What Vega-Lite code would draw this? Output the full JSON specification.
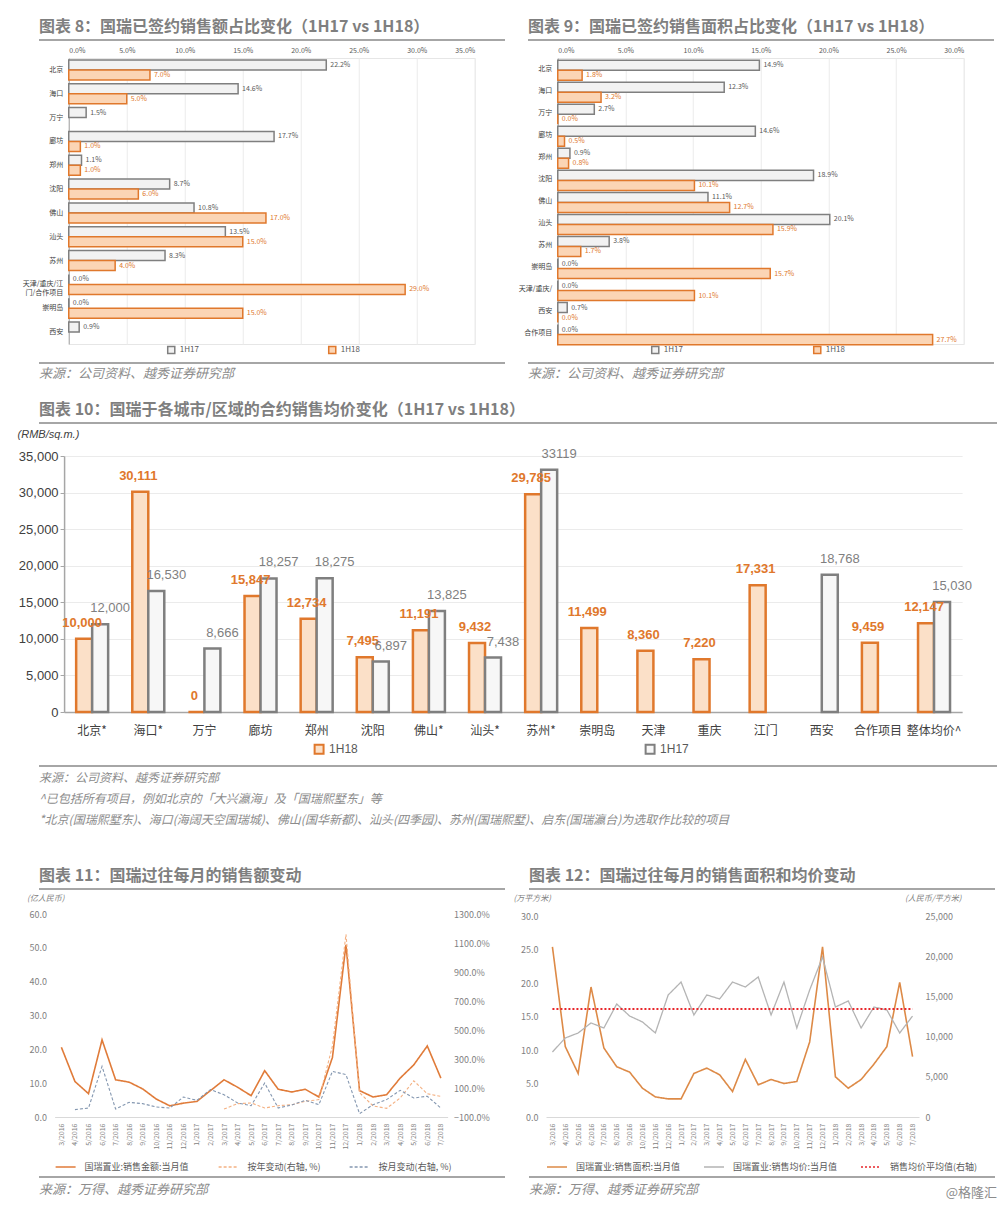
{
  "$schema": "https://vega.github.io/schema/vega-lite/v6.json",
  "padding": {"left": 17, "top": 19, "right": 5, "bottom": 4},
  "background": "white",
  "config": {
    "font": "Noto Sans CJK SC",
    "view": {"stroke": null},
    "axis": {"labelColor": "#595959", "domainColor": "#a6a6a6", "tickColor": "#a6a6a6", "gridColor": "#ebebeb", "labelFont": "Noto Sans CJK SC"},
    "legend": {"labelFont": "Noto Sans CJK SC", "labelColor": "#595959"}
  },
  "title": {"text": "@格隆汇", "orient": "bottom", "anchor": "end", "fontSize": 13, "fontWeight": "normal", "color": "#8c8c8c", "offset": -10},
  "datasets": {
    "f8": [
      {"city": "北京", "period": "1H17", "v": 0.222}, {"city": "北京", "period": "1H18", "v": 0.070},
      {"city": "海口", "period": "1H17", "v": 0.146}, {"city": "海口", "period": "1H18", "v": 0.050},
      {"city": "万宁", "period": "1H17", "v": 0.015},
      {"city": "廊坊", "period": "1H17", "v": 0.177}, {"city": "廊坊", "period": "1H18", "v": 0.010},
      {"city": "郑州", "period": "1H17", "v": 0.011}, {"city": "郑州", "period": "1H18", "v": 0.010},
      {"city": "沈阳", "period": "1H17", "v": 0.087}, {"city": "沈阳", "period": "1H18", "v": 0.060},
      {"city": "佛山", "period": "1H17", "v": 0.108}, {"city": "佛山", "period": "1H18", "v": 0.170},
      {"city": "汕头", "period": "1H17", "v": 0.135}, {"city": "汕头", "period": "1H18", "v": 0.150},
      {"city": "苏州", "period": "1H17", "v": 0.083}, {"city": "苏州", "period": "1H18", "v": 0.040},
      {"city": "天津/重庆/江门/合作项目", "period": "1H17", "v": 0.0}, {"city": "天津/重庆/江门/合作项目", "period": "1H18", "v": 0.290},
      {"city": "崇明岛", "period": "1H17", "v": 0.0}, {"city": "崇明岛", "period": "1H18", "v": 0.150},
      {"city": "西安", "period": "1H17", "v": 0.009}
    ],
    "f9": [
      {"city": "北京", "period": "1H17", "v": 0.149}, {"city": "北京", "period": "1H18", "v": 0.018},
      {"city": "海口", "period": "1H17", "v": 0.123}, {"city": "海口", "period": "1H18", "v": 0.032},
      {"city": "万宁", "period": "1H17", "v": 0.027}, {"city": "万宁", "period": "1H18", "v": 0.0},
      {"city": "廊坊", "period": "1H17", "v": 0.146}, {"city": "廊坊", "period": "1H18", "v": 0.005},
      {"city": "郑州", "period": "1H17", "v": 0.009}, {"city": "郑州", "period": "1H18", "v": 0.008},
      {"city": "沈阳", "period": "1H17", "v": 0.189}, {"city": "沈阳", "period": "1H18", "v": 0.101},
      {"city": "佛山", "period": "1H17", "v": 0.111}, {"city": "佛山", "period": "1H18", "v": 0.127},
      {"city": "汕头", "period": "1H17", "v": 0.201}, {"city": "汕头", "period": "1H18", "v": 0.159},
      {"city": "苏州", "period": "1H17", "v": 0.038}, {"city": "苏州", "period": "1H18", "v": 0.017},
      {"city": "崇明岛", "period": "1H17", "v": 0.0}, {"city": "崇明岛", "period": "1H18", "v": 0.157},
      {"city": "天津/重庆/", "period": "1H17", "v": 0.0}, {"city": "天津/重庆/", "period": "1H18", "v": 0.101},
      {"city": "西安", "period": "1H17", "v": 0.007}, {"city": "西安", "period": "1H18", "v": 0.0},
      {"city": "合作项目", "period": "1H17", "v": 0.0}, {"city": "合作项目", "period": "1H18", "v": 0.277}
    ],
    "f10": [
      {"city": "北京*", "period": "1H18", "v": 10000, "label": "10,000"}, {"city": "北京*", "period": "1H17", "v": 12000, "label": "12,000"},
      {"city": "海口*", "period": "1H18", "v": 30111, "label": "30,111"}, {"city": "海口*", "period": "1H17", "v": 16530, "label": "16,530"},
      {"city": "万宁", "period": "1H18", "v": 0, "label": "0"}, {"city": "万宁", "period": "1H17", "v": 8666, "label": "8,666"},
      {"city": "廊坊", "period": "1H18", "v": 15847, "label": "15,847"}, {"city": "廊坊", "period": "1H17", "v": 18257, "label": "18,257"},
      {"city": "郑州", "period": "1H18", "v": 12734, "label": "12,734"}, {"city": "郑州", "period": "1H17", "v": 18275, "label": "18,275"},
      {"city": "沈阳", "period": "1H18", "v": 7495, "label": "7,495"}, {"city": "沈阳", "period": "1H17", "v": 6897, "label": "6,897"},
      {"city": "佛山*", "period": "1H18", "v": 11191, "label": "11,191"}, {"city": "佛山*", "period": "1H17", "v": 13825, "label": "13,825"},
      {"city": "汕头*", "period": "1H18", "v": 9432, "label": "9,432"}, {"city": "汕头*", "period": "1H17", "v": 7438, "label": "7,438"},
      {"city": "苏州*", "period": "1H18", "v": 29785, "label": "29,785"}, {"city": "苏州*", "period": "1H17", "v": 33119, "label": "33119"},
      {"city": "崇明岛", "period": "1H18", "v": 11499, "label": "11,499"},
      {"city": "天津", "period": "1H18", "v": 8360, "label": "8,360"},
      {"city": "重庆", "period": "1H18", "v": 7220, "label": "7,220"},
      {"city": "江门", "period": "1H18", "v": 17331, "label": "17,331"},
      {"city": "西安", "period": "1H17", "v": 18768, "label": "18,768"},
      {"city": "合作项目", "period": "1H18", "v": 9459, "label": "9,459"},
      {"city": "整体均价^", "period": "1H18", "v": 12147, "label": "12,147"}, {"city": "整体均价^", "period": "1H17", "v": 15030, "label": "15,030"}
    ],
    "f11": [
      {"m": "3/2016", "s": "国瑞置业:销售金额:当月值", "v": 20.6},
      {"m": "4/2016", "s": "国瑞置业:销售金额:当月值", "v": 10.5},
      {"m": "5/2016", "s": "国瑞置业:销售金额:当月值", "v": 6.9},
      {"m": "6/2016", "s": "国瑞置业:销售金额:当月值", "v": 22.8},
      {"m": "7/2016", "s": "国瑞置业:销售金额:当月值", "v": 11.0},
      {"m": "8/2016", "s": "国瑞置业:销售金额:当月值", "v": 10.3},
      {"m": "9/2016", "s": "国瑞置业:销售金额:当月值", "v": 8.3},
      {"m": "10/2016", "s": "国瑞置业:销售金额:当月值", "v": 5.3},
      {"m": "11/2016", "s": "国瑞置业:销售金额:当月值", "v": 3.3},
      {"m": "12/2016", "s": "国瑞置业:销售金额:当月值", "v": 4.1},
      {"m": "1/2017", "s": "国瑞置业:销售金额:当月值", "v": 4.6},
      {"m": "2/2017", "s": "国瑞置业:销售金额:当月值", "v": 7.8},
      {"m": "3/2017", "s": "国瑞置业:销售金额:当月值", "v": 11.0},
      {"m": "4/2017", "s": "国瑞置业:销售金额:当月值", "v": 8.8},
      {"m": "5/2017", "s": "国瑞置业:销售金额:当月值", "v": 6.3},
      {"m": "6/2017", "s": "国瑞置业:销售金额:当月值", "v": 13.7},
      {"m": "7/2017", "s": "国瑞置业:销售金额:当月值", "v": 8.2},
      {"m": "8/2017", "s": "国瑞置业:销售金额:当月值", "v": 7.4},
      {"m": "9/2017", "s": "国瑞置业:销售金额:当月值", "v": 8.2},
      {"m": "10/2017", "s": "国瑞置业:销售金额:当月值", "v": 5.9},
      {"m": "11/2017", "s": "国瑞置业:销售金额:当月值", "v": 17.6},
      {"m": "12/2017", "s": "国瑞置业:销售金额:当月值", "v": 50.9},
      {"m": "1/2018", "s": "国瑞置业:销售金额:当月值", "v": 7.8},
      {"m": "2/2018", "s": "国瑞置业:销售金额:当月值", "v": 5.9},
      {"m": "3/2018", "s": "国瑞置业:销售金额:当月值", "v": 6.6},
      {"m": "4/2018", "s": "国瑞置业:销售金额:当月值", "v": 11.5},
      {"m": "5/2018", "s": "国瑞置业:销售金额:当月值", "v": 15.4},
      {"m": "6/2018", "s": "国瑞置业:销售金额:当月值", "v": 21.0},
      {"m": "7/2018", "s": "国瑞置业:销售金额:当月值", "v": 11.5},
      {"m": "3/2017", "s": "按年变动(右轴, %)", "v": -0.45},
      {"m": "4/2017", "s": "按年变动(右轴, %)", "v": -0.08},
      {"m": "5/2017", "s": "按年变动(右轴, %)", "v": -0.03},
      {"m": "6/2017", "s": "按年变动(右轴, %)", "v": -0.38},
      {"m": "7/2017", "s": "按年变动(右轴, %)", "v": -0.22},
      {"m": "8/2017", "s": "按年变动(右轴, %)", "v": -0.15},
      {"m": "9/2017", "s": "按年变动(右轴, %)", "v": 0.08},
      {"m": "10/2017", "s": "按年变动(右轴, %)", "v": 0.20},
      {"m": "11/2017", "s": "按年变动(右轴, %)", "v": 3.9},
      {"m": "12/2017", "s": "按年变动(右轴, %)", "v": 11.6},
      {"m": "1/2018", "s": "按年变动(右轴, %)", "v": 0.68},
      {"m": "2/2018", "s": "按年变动(右轴, %)", "v": -0.24},
      {"m": "3/2018", "s": "按年变动(右轴, %)", "v": -0.40},
      {"m": "4/2018", "s": "按年变动(右轴, %)", "v": 0.31},
      {"m": "5/2018", "s": "按年变动(右轴, %)", "v": 1.50},
      {"m": "6/2018", "s": "按年变动(右轴, %)", "v": 0.60},
      {"m": "7/2018", "s": "按年变动(右轴, %)", "v": 0.42},
      {"m": "4/2016", "s": "按月变动(右轴, %)", "v": -0.49},
      {"m": "5/2016", "s": "按月变动(右轴, %)", "v": -0.38},
      {"m": "6/2016", "s": "按月变动(右轴, %)", "v": 2.49},
      {"m": "7/2016", "s": "按月变动(右轴, %)", "v": -0.45},
      {"m": "8/2016", "s": "按月变动(右轴, %)", "v": 0.01},
      {"m": "9/2016", "s": "按月变动(右轴, %)", "v": -0.08},
      {"m": "10/2016", "s": "按月变动(右轴, %)", "v": -0.31},
      {"m": "11/2016", "s": "按月变动(右轴, %)", "v": -0.38},
      {"m": "12/2016", "s": "按月变动(右轴, %)", "v": 0.38},
      {"m": "1/2017", "s": "按月变动(右轴, %)", "v": 0.15},
      {"m": "2/2017", "s": "按月变动(右轴, %)", "v": 0.89},
      {"m": "3/2017", "s": "按月变动(右轴, %)", "v": 0.54},
      {"m": "4/2017", "s": "按月变动(右轴, %)", "v": -0.03},
      {"m": "5/2017", "s": "按月变动(右轴, %)", "v": -0.22},
      {"m": "6/2017", "s": "按月变动(右轴, %)", "v": 1.34},
      {"m": "7/2017", "s": "按月变动(右轴, %)", "v": -0.38},
      {"m": "8/2017", "s": "按月变动(右轴, %)", "v": -0.17},
      {"m": "9/2017", "s": "按月变动(右轴, %)", "v": 0.15},
      {"m": "10/2017", "s": "按月变动(右轴, %)", "v": -0.15},
      {"m": "11/2017", "s": "按月变动(右轴, %)", "v": 2.15},
      {"m": "12/2017", "s": "按月变动(右轴, %)", "v": 1.92},
      {"m": "1/2018", "s": "按月变动(右轴, %)", "v": -0.77},
      {"m": "2/2018", "s": "按月变动(右轴, %)", "v": -0.15},
      {"m": "3/2018", "s": "按月变动(右轴, %)", "v": 0.20},
      {"m": "4/2018", "s": "按月变动(右轴, %)", "v": 0.84},
      {"m": "5/2018", "s": "按月变动(右轴, %)", "v": 0.31},
      {"m": "6/2018", "s": "按月变动(右轴, %)", "v": 0.43},
      {"m": "7/2018", "s": "按月变动(右轴, %)", "v": -0.38}
    ],
    "f12": [
      {"m": "3/2016", "s": "国瑞置业:销售面积:当月值", "v": 25.4},
      {"m": "4/2016", "s": "国瑞置业:销售面积:当月值", "v": 10.5},
      {"m": "5/2016", "s": "国瑞置业:销售面积:当月值", "v": 6.5},
      {"m": "6/2016", "s": "国瑞置业:销售面积:当月值", "v": 19.4},
      {"m": "7/2016", "s": "国瑞置业:销售面积:当月值", "v": 10.3},
      {"m": "8/2016", "s": "国瑞置业:销售面积:当月值", "v": 7.5},
      {"m": "9/2016", "s": "国瑞置业:销售面积:当月值", "v": 6.7},
      {"m": "10/2016", "s": "国瑞置业:销售面积:当月值", "v": 4.3},
      {"m": "11/2016", "s": "国瑞置业:销售面积:当月值", "v": 3.0},
      {"m": "12/2016", "s": "国瑞置业:销售面积:当月值", "v": 2.7},
      {"m": "1/2017", "s": "国瑞置业:销售面积:当月值", "v": 2.7},
      {"m": "2/2017", "s": "国瑞置业:销售面积:当月值", "v": 6.5},
      {"m": "3/2017", "s": "国瑞置业:销售面积:当月值", "v": 7.3},
      {"m": "4/2017", "s": "国瑞置业:销售面积:当月值", "v": 6.3},
      {"m": "5/2017", "s": "国瑞置业:销售面积:当月值", "v": 3.8},
      {"m": "6/2017", "s": "国瑞置业:销售面积:当月值", "v": 8.6},
      {"m": "7/2017", "s": "国瑞置业:销售面积:当月值", "v": 4.8},
      {"m": "8/2017", "s": "国瑞置业:销售面积:当月值", "v": 5.6},
      {"m": "9/2017", "s": "国瑞置业:销售面积:当月值", "v": 5.0},
      {"m": "10/2017", "s": "国瑞置业:销售面积:当月值", "v": 5.3},
      {"m": "11/2017", "s": "国瑞置业:销售面积:当月值", "v": 11.2},
      {"m": "12/2017", "s": "国瑞置业:销售面积:当月值", "v": 25.4},
      {"m": "1/2018", "s": "国瑞置业:销售面积:当月值", "v": 6.0},
      {"m": "2/2018", "s": "国瑞置业:销售面积:当月值", "v": 4.3},
      {"m": "3/2018", "s": "国瑞置业:销售面积:当月值", "v": 5.6},
      {"m": "4/2018", "s": "国瑞置业:销售面积:当月值", "v": 7.9},
      {"m": "5/2018", "s": "国瑞置业:销售面积:当月值", "v": 10.5},
      {"m": "6/2018", "s": "国瑞置业:销售面积:当月值", "v": 20.1},
      {"m": "7/2018", "s": "国瑞置业:销售面积:当月值", "v": 9.0},
      {"m": "3/2016", "s": "国瑞置业:销售均价:当月值", "v": 8090},
      {"m": "4/2016", "s": "国瑞置业:销售均价:当月值", "v": 9830},
      {"m": "5/2016", "s": "国瑞置业:销售均价:当月值", "v": 10450},
      {"m": "6/2016", "s": "国瑞置业:销售均价:当月值", "v": 11700},
      {"m": "7/2016", "s": "国瑞置业:销售均价:当月值", "v": 11070},
      {"m": "8/2016", "s": "国瑞置业:销售均价:当月值", "v": 14060},
      {"m": "9/2016", "s": "国瑞置业:销售均价:当月值", "v": 12560},
      {"m": "10/2016", "s": "国瑞置业:销售均价:当月值", "v": 11820},
      {"m": "11/2016", "s": "国瑞置业:销售均价:当月值", "v": 10450},
      {"m": "12/2016", "s": "国瑞置业:销售均价:当月值", "v": 15180},
      {"m": "1/2017", "s": "国瑞置业:销售均价:当月值", "v": 16790},
      {"m": "2/2017", "s": "国瑞置业:销售均价:当月值", "v": 12690},
      {"m": "3/2017", "s": "国瑞置业:销售均价:当月值", "v": 15180},
      {"m": "4/2017", "s": "国瑞置业:销售均价:当月值", "v": 14680},
      {"m": "5/2017", "s": "国瑞置业:销售均价:当月值", "v": 16790},
      {"m": "6/2017", "s": "国瑞置业:销售均价:当月值", "v": 16170},
      {"m": "7/2017", "s": "国瑞置业:销售均价:当月值", "v": 17420},
      {"m": "8/2017", "s": "国瑞置业:销售均价:当月值", "v": 12690},
      {"m": "9/2017", "s": "国瑞置业:销售均价:当月值", "v": 16790},
      {"m": "10/2017", "s": "国瑞置业:销售均价:当月值", "v": 11070},
      {"m": "11/2017", "s": "国瑞置业:销售均价:当月值", "v": 15800},
      {"m": "12/2017", "s": "国瑞置业:销售均价:当月值", "v": 19900},
      {"m": "1/2018", "s": "国瑞置业:销售均价:当月值", "v": 13680},
      {"m": "2/2018", "s": "国瑞置业:销售均价:当月值", "v": 14430},
      {"m": "3/2018", "s": "国瑞置业:销售均价:当月值", "v": 11070},
      {"m": "4/2018", "s": "国瑞置业:销售均价:当月值", "v": 13680},
      {"m": "5/2018", "s": "国瑞置业:销售均价:当月值", "v": 13310},
      {"m": "6/2018", "s": "国瑞置业:销售均价:当月值", "v": 10450},
      {"m": "7/2018", "s": "国瑞置业:销售均价:当月值", "v": 12560},
      {"m": "3/2016", "s": "销售均价平均值(右轴)", "v": 13430},
      {"m": "7/2018", "s": "销售均价平均值(右轴)", "v": 13430}
    ],
    "sep": [{}]
  },
  "resolve": {"scale": {"color": "independent", "fill": "independent", "stroke": "independent", "strokeDash": "independent"}, "legend": {"color": "independent", "fill": "independent", "stroke": "independent", "strokeDash": "independent"}},
  "spacing": 21,
  "vconcat": [
    {
      "spacing": 12,
      "resolve": {"scale": {"color": "independent", "fill": "independent", "stroke": "independent", "strokeDash": "independent"}, "legend": {"color": "independent", "fill": "independent", "stroke": "independent", "strokeDash": "independent"}},
      "hconcat": [
        {
          "columns": 1, "center": true, "spacing": 4,
          "resolve": {"scale": {"color": "independent", "fill": "independent", "stroke": "independent", "strokeDash": "independent"}, "legend": {"color": "independent", "fill": "independent", "stroke": "independent", "strokeDash": "independent"}},
          "concat": [
            {"width": 466, "height": 2, "data": {"name": "sep"}, "mark": {"type": "bar", "color": "#a6a6a6"}, "encoding": {},
             "title": {"text": "图表 8：国瑞已签约销售额占比变化（1H17 vs 1H18）", "anchor": "start", "fontSize": 16, "fontWeight": "bold", "color": "#7f7f7f", "offset": 4}},
            {
              "width": 406, "height": 286,
              "view": {"stroke": "#e6e6e6"},
              "data": {"name": "f8"},
              "encoding": {
                "y": {"field": "city", "type": "nominal", "sort": ["北京", "海口", "万宁", "廊坊", "郑州", "沈阳", "佛山", "汕头", "苏州", "天津/重庆/江门/合作项目", "崇明岛", "西安"],
                      "scale": {"paddingInner": 0.16, "paddingOuter": 0.08},
                      "axis": {"title": null, "ticks": false, "labelFontSize": 7, "labelColor": "#404040", "labelPadding": 6,
                               "labelExpr": "datum.value == '天津/重庆/江门/合作项目' ? ['天津/重庆/江', '门/合作项目'] : datum.value"}},
                "yOffset": {"field": "period", "type": "nominal", "sort": ["1H17", "1H18"]},
                "x": {"field": "v", "type": "quantitative", "scale": {"domain": [0, 0.35]},
                      "axis": {"orient": "top", "title": null, "format": ".1%", "values": [0, 0.05, 0.1, 0.15, 0.2, 0.25, 0.3, 0.35], "labelFontSize": 7, "domain": false, "ticks": false, "grid": true, "labelPadding": 5}}
              },
              "layer": [
                {"mark": {"type": "bar", "strokeWidth": 1.5},
                 "encoding": {
                   "fill": {"field": "period", "type": "nominal", "scale": {"domain": ["1H17", "1H18"], "range": ["#f2f2f2", "#fbd5b5"]},
                            "legend": {"orient": "bottom", "offset": 1, "direction": "horizontal", "title": " ", "titleOrient": "left", "titlePadding": 98, "columnPadding": 125, "labelFontSize": 8, "symbolType": "square", "symbolSize": 50}},
                   "stroke": {"field": "period", "type": "nominal", "scale": {"domain": ["1H17", "1H18"], "range": ["#7f7f7f", "#e0782c"]},
                            "legend": {"orient": "bottom", "offset": 1, "direction": "horizontal", "title": " ", "titleOrient": "left", "titlePadding": 98, "columnPadding": 125, "labelFontSize": 8, "symbolType": "square", "symbolSize": 50}}
                 }},
                {"mark": {"type": "text", "align": "left", "dx": 4, "fontSize": 7, "baseline": "middle"},
                 "encoding": {
                   "text": {"field": "v", "type": "quantitative", "format": ".1%"},
                   "color": {"field": "period", "type": "nominal", "scale": {"domain": ["1H17", "1H18"], "range": ["#595959", "#e0782c"]}, "legend": null}
                 }}
              ]
            },
            {"width": 466, "height": 2, "data": {"name": "sep"}, "mark": {"type": "bar", "color": "#a6a6a6"}, "encoding": {},
             "title": {"text": "来源：公司资料、越秀证券研究部", "orient": "bottom", "anchor": "start", "fontSize": 13, "fontStyle": "italic", "fontWeight": "normal", "color": "#8c8c8c", "offset": 4}}
          ]
        },
        {
          "columns": 1, "center": true, "spacing": 4,
          "resolve": {"scale": {"color": "independent", "fill": "independent", "stroke": "independent", "strokeDash": "independent"}, "legend": {"color": "independent", "fill": "independent", "stroke": "independent", "strokeDash": "independent"}},
          "concat": [
            {"width": 466, "height": 2, "data": {"name": "sep"}, "mark": {"type": "bar", "color": "#a6a6a6"}, "encoding": {},
             "title": {"text": "图表 9：国瑞已签约销售面积占比变化（1H17 vs 1H18）", "anchor": "start", "fontSize": 16, "fontWeight": "bold", "color": "#7f7f7f", "offset": 4}},
            {
              "width": 406, "height": 286,
              "view": {"stroke": "#e6e6e6"},
              "data": {"name": "f9"},
              "encoding": {
                "y": {"field": "city", "type": "nominal", "sort": ["北京", "海口", "万宁", "廊坊", "郑州", "沈阳", "佛山", "汕头", "苏州", "崇明岛", "天津/重庆/", "西安", "合作项目"],
                      "scale": {"paddingInner": 0.22, "paddingOuter": 0.1},
                      "axis": {"title": null, "ticks": false, "labelFontSize": 7, "labelColor": "#404040", "labelPadding": 6}},
                "yOffset": {"field": "period", "type": "nominal", "sort": ["1H17", "1H18"]},
                "x": {"field": "v", "type": "quantitative", "scale": {"domain": [0, 0.30]},
                      "axis": {"orient": "top", "title": null, "format": ".1%", "values": [0, 0.05, 0.1, 0.15, 0.2, 0.25, 0.3], "labelFontSize": 7, "domain": false, "ticks": false, "grid": true, "labelPadding": 5}}
              },
              "layer": [
                {"mark": {"type": "bar", "strokeWidth": 1.5},
                 "encoding": {
                   "fill": {"field": "period", "type": "nominal", "scale": {"domain": ["1H17", "1H18"], "range": ["#f2f2f2", "#fbd5b5"]},
                            "legend": {"orient": "bottom", "offset": 1, "direction": "horizontal", "title": " ", "titleOrient": "left", "titlePadding": 93, "columnPadding": 126, "labelFontSize": 8, "symbolType": "square", "symbolSize": 50}},
                   "stroke": {"field": "period", "type": "nominal", "scale": {"domain": ["1H17", "1H18"], "range": ["#7f7f7f", "#e0782c"]},
                            "legend": {"orient": "bottom", "offset": 1, "direction": "horizontal", "title": " ", "titleOrient": "left", "titlePadding": 93, "columnPadding": 126, "labelFontSize": 8, "symbolType": "square", "symbolSize": 50}}
                 }},
                {"mark": {"type": "text", "align": "left", "dx": 4, "fontSize": 7, "baseline": "middle"},
                 "encoding": {
                   "text": {"field": "v", "type": "quantitative", "format": ".1%"},
                   "color": {"field": "period", "type": "nominal", "scale": {"domain": ["1H17", "1H18"], "range": ["#595959", "#e0782c"]}, "legend": null}
                 }}
              ]
            },
            {"width": 466, "height": 2, "data": {"name": "sep"}, "mark": {"type": "bar", "color": "#a6a6a6"}, "encoding": {},
             "title": {"text": "来源：公司资料、越秀证券研究部", "orient": "bottom", "anchor": "start", "fontSize": 13, "fontStyle": "italic", "fontWeight": "normal", "color": "#8c8c8c", "offset": 4}}
          ]
        }
      ]
    },
    {
      "columns": 1, "center": true, "spacing": 4,
      "resolve": {"scale": {"color": "independent", "fill": "independent", "stroke": "independent", "strokeDash": "independent"}, "legend": {"color": "independent", "fill": "independent", "stroke": "independent", "strokeDash": "independent"}},
      "concat": [
        {"width": 958, "height": 2, "data": {"name": "sep"}, "mark": {"type": "bar", "color": "#a6a6a6"}, "encoding": {},
         "title": {"text": "图表 10：国瑞于各城市/区域的合约销售均价变化（1H17 vs 1H18）", "anchor": "start", "fontSize": 16, "fontWeight": "bold", "color": "#7f7f7f", "offset": 4}},
        {
          "width": 898, "height": 256,
          "data": {"name": "f10"},
          "encoding": {
            "x": {"field": "city", "type": "nominal", "sort": ["北京*", "海口*", "万宁", "廊坊", "郑州", "沈阳", "佛山*", "汕头*", "苏州*", "崇明岛", "天津", "重庆", "江门", "西安", "合作项目", "整体均价^"],
                  "scale": {"paddingInner": 0.43, "paddingOuter": 0.215},
                  "axis": {"title": null, "labelAngle": 0, "ticks": false, "labelFontSize": 12, "labelColor": "#404040", "labelPadding": 13, "domainColor": "#a6a6a6", "domainWidth": 1.5}},
            "xOffset": {"field": "period", "type": "nominal", "sort": ["1H18", "1H17"]},
            "y": {"field": "v", "type": "quantitative", "scale": {"domain": [0, 35000]},
                  "axis": {"title": "(RMB/sq.m.)", "titleAngle": 0, "titleAlign": "left", "titleBaseline": "middle", "titleX": -47, "titleY": -22, "titleFont": "Liberation Sans", "titleFontSize": 11, "titleFontStyle": "italic", "titleFontWeight": "normal", "titleColor": "#404040",
                           "format": ",.0f", "values": [0, 5000, 10000, 15000, 20000, 25000, 30000, 35000], "labelFont": "Liberation Sans", "labelFontSize": 13, "labelColor": "#404040", "grid": true, "tickSize": 4, "domainWidth": 1.5}}
          },
          "layer": [
            {"mark": {"type": "bar", "strokeWidth": 2.5},
             "encoding": {
               "fill": {"field": "period", "type": "nominal", "scale": {"domain": ["1H18", "1H17"], "range": ["#fbe0c8", "#f7f7f7"]},
                        "legend": {"orient": "bottom", "offset": 4, "padding": 3, "direction": "horizontal", "title": " ", "titleOrient": "left", "titlePadding": 246, "columnPadding": 283, "labelFontSize": 12, "labelFont": "Liberation Sans", "symbolType": "square", "symbolSize": 80, "symbolStrokeWidth": 2}},
               "stroke": {"field": "period", "type": "nominal", "scale": {"domain": ["1H18", "1H17"], "range": ["#e0782c", "#7f7f7f"]},
                        "legend": {"orient": "bottom", "offset": 4, "padding": 3, "direction": "horizontal", "title": " ", "titleOrient": "left", "titlePadding": 246, "columnPadding": 283, "labelFontSize": 12, "labelFont": "Liberation Sans", "symbolType": "square", "symbolSize": 80, "symbolStrokeWidth": 2}}
             }},
            {"transform": [{"filter": "datum.period == '1H18'"}],
             "mark": {"type": "text", "dy": -16, "dx": -2, "fontSize": 13, "fontWeight": "bold", "font": "Liberation Sans", "color": "#e0782c"},
             "encoding": {"text": {"field": "label"}}},
            {"transform": [{"filter": "datum.period == '1H17'"}],
             "mark": {"type": "text", "dy": -16, "dx": 10, "fontSize": 13, "font": "Liberation Sans", "color": "#7f7f7f"},
             "encoding": {"text": {"field": "label"}}}
          ]
        },
        {"width": 958, "height": 2, "data": {"name": "sep"}, "mark": {"type": "bar", "color": "#a6a6a6"}, "encoding": {},
         "title": {"text": ["来源：公司资料、越秀证券研究部", "^已包括所有项目，例如北京的「大兴瀛海」及「国瑞熙墅东」等", "*北京(国瑞熙墅东)、海口(海阔天空国瑞城)、佛山(国华新都)、汕头(四季园)、苏州(国瑞熙墅)、启东(国瑞瀛台)为选取作比较的项目", ""],
                   "orient": "bottom", "anchor": "start", "fontSize": 12, "lineHeight": 21, "fontStyle": "italic", "fontWeight": "normal", "color": "#8c8c8c", "offset": 6}}
      ]
    },
    {
      "spacing": 8,
      "resolve": {"scale": {"color": "independent", "fill": "independent", "stroke": "independent", "strokeDash": "independent"}, "legend": {"color": "independent", "fill": "independent", "stroke": "independent", "strokeDash": "independent"}},
      "hconcat": [
        {
          "columns": 1, "center": true, "spacing": 4,
          "resolve": {"scale": {"color": "independent", "fill": "independent", "stroke": "independent", "strokeDash": "independent"}, "legend": {"color": "independent", "fill": "independent", "stroke": "independent", "strokeDash": "independent"}},
          "concat": [
            {"width": 466, "height": 2, "data": {"name": "sep"}, "mark": {"type": "bar", "color": "#a6a6a6"}, "encoding": {},
             "title": {"text": "图表 11：国瑞过往每月的销售额变动", "anchor": "start", "fontSize": 16, "fontWeight": "bold", "color": "#7f7f7f", "offset": 4}},
            {
              "width": 393, "height": 203,
              "data": {"name": "f11"},
              "encoding": {
                "x": {"field": "m", "type": "ordinal", "scale": {"type": "point", "padding": 0.5, "domain": ["3/2016", "4/2016", "5/2016", "6/2016", "7/2016", "8/2016", "9/2016", "10/2016", "11/2016", "12/2016", "1/2017", "2/2017", "3/2017", "4/2017", "5/2017", "6/2017", "7/2017", "8/2017", "9/2017", "10/2017", "11/2017", "12/2017", "1/2018", "2/2018", "3/2018", "4/2018", "5/2018", "6/2018", "7/2018"]},
                      "axis": {"title": null, "labelAngle": -90, "labelFontSize": 7, "labelColor": "#7f7f7f", "ticks": false, "domainColor": "#d9d9d9", "labelPadding": 6}},
                "color": {"field": "s", "type": "nominal", "scale": {"domain": ["国瑞置业:销售金额:当月值", "按年变动(右轴, %)", "按月变动(右轴, %)"], "range": ["#e07b39", "#f4b183", "#8497b0"]},
                          "legend": {"orient": "bottom", "offset": 6, "direction": "horizontal", "title": null, "symbolType": "stroke", "symbolSize": 400, "symbolStrokeWidth": 1.5, "labelOffset": 8, "labelFontSize": 9, "labelColor": "#595959", "columnPadding": 26}},
                "strokeDash": {"field": "s", "type": "nominal", "scale": {"domain": ["国瑞置业:销售金额:当月值", "按年变动(右轴, %)", "按月变动(右轴, %)"], "range": [[1, 0], [3, 2], [3, 2]]},
                          "legend": {"orient": "bottom", "offset": 6, "direction": "horizontal", "title": null, "symbolType": "stroke", "symbolSize": 400, "symbolStrokeWidth": 1.5, "labelOffset": 8, "labelFontSize": 9, "labelColor": "#595959", "columnPadding": 26}}
              },
              "layer": [
                {"transform": [{"filter": "datum.s == '国瑞置业:销售金额:当月值'"}],
                 "mark": {"type": "line", "strokeWidth": 1.6},
                 "encoding": {"y": {"field": "v", "type": "quantitative", "scale": {"domain": [0, 60]},
                   "axis": {"title": "(亿人民币)", "titleAngle": 0, "titleAlign": "left", "titleBaseline": "middle", "titleX": -28, "titleY": -16, "titleFontSize": 8, "titleFontStyle": "italic", "titleFontWeight": "normal", "titleColor": "#7f7f7f",
                            "format": ".1f", "values": [0, 10, 20, 30, 40, 50, 60], "labelFontSize": 9, "labelColor": "#7f7f7f", "domain": false, "ticks": false, "grid": false, "labelPadding": 8}}}},
                {"transform": [{"filter": "datum.s != '国瑞置业:销售金额:当月值'"}],
                 "mark": {"type": "line", "strokeWidth": 1.1},
                 "encoding": {"y": {"field": "v", "type": "quantitative", "scale": {"domain": [-1, 13]},
                   "axis": {"orient": "right", "title": null, "format": ".1%", "values": [-1, 1, 3, 5, 7, 9, 11, 13], "labelFontSize": 9, "labelColor": "#7f7f7f", "domain": false, "ticks": false, "grid": false, "labelPadding": 6}}}}
              ],
              "resolve": {"scale": {"y": "independent"}}
            },
            {"width": 466, "height": 2, "data": {"name": "sep"}, "mark": {"type": "bar", "color": "#a6a6a6"}, "encoding": {},
             "title": {"text": "来源：万得、越秀证券研究部", "orient": "bottom", "anchor": "start", "fontSize": 13, "fontStyle": "italic", "fontWeight": "normal", "color": "#8c8c8c", "offset": 6}}
          ]
        },
        {
          "columns": 1, "center": true, "spacing": 4,
          "resolve": {"scale": {"color": "independent", "fill": "independent", "stroke": "independent", "strokeDash": "independent"}, "legend": {"color": "independent", "fill": "independent", "stroke": "independent", "strokeDash": "independent"}},
          "concat": [
            {"width": 466, "height": 2, "data": {"name": "sep"}, "mark": {"type": "bar", "color": "#a6a6a6"}, "encoding": {},
             "title": {"text": "图表 12：国瑞过往每月的销售面积和均价变动", "anchor": "start", "fontSize": 16, "fontWeight": "bold", "color": "#7f7f7f", "offset": 4}},
            {
              "width": 373, "height": 201,
              "data": {"name": "f12"},
              "encoding": {
                "x": {"field": "m", "type": "ordinal", "scale": {"type": "point", "padding": 0.5, "domain": ["3/2016", "4/2016", "5/2016", "6/2016", "7/2016", "8/2016", "9/2016", "10/2016", "11/2016", "12/2016", "1/2017", "2/2017", "3/2017", "4/2017", "5/2017", "6/2017", "7/2017", "8/2017", "9/2017", "10/2017", "11/2017", "12/2017", "1/2018", "2/2018", "3/2018", "4/2018", "5/2018", "6/2018", "7/2018"]},
                      "axis": {"title": null, "labelAngle": -90, "labelFontSize": 7, "labelColor": "#7f7f7f", "ticks": false, "domainColor": "#d9d9d9", "labelPadding": 6}},
                "color": {"field": "s", "type": "nominal", "scale": {"domain": ["国瑞置业:销售面积:当月值", "国瑞置业:销售均价:当月值", "销售均价平均值(右轴)"], "range": ["#dd8a47", "#b4b4b4", "#e8262b"]},
                          "legend": {"orient": "bottom", "offset": 6, "direction": "horizontal", "title": null, "symbolType": "stroke", "symbolSize": 400, "symbolStrokeWidth": 1.5, "labelOffset": 8, "labelFontSize": 9, "labelColor": "#595959", "columnPadding": 20}},
                "strokeDash": {"field": "s", "type": "nominal", "scale": {"domain": ["国瑞置业:销售面积:当月值", "国瑞置业:销售均价:当月值", "销售均价平均值(右轴)"], "range": [[1, 0], [1, 0], [2, 2]]},
                          "legend": {"orient": "bottom", "offset": 6, "direction": "horizontal", "title": null, "symbolType": "stroke", "symbolSize": 400, "symbolStrokeWidth": 1.5, "labelOffset": 8, "labelFontSize": 9, "labelColor": "#595959", "columnPadding": 20}}
              },
              "layer": [
                {"transform": [{"filter": "datum.s == '国瑞置业:销售面积:当月值'"}],
                 "mark": {"type": "line", "strokeWidth": 1.6},
                 "encoding": {"y": {"field": "v", "type": "quantitative", "scale": {"domain": [0, 30]},
                   "axis": {"title": "(万平方米)", "titleAngle": 0, "titleAlign": "left", "titleBaseline": "middle", "titleX": -33, "titleY": -18, "titleFontSize": 8, "titleFontStyle": "italic", "titleFontWeight": "normal", "titleColor": "#7f7f7f",
                            "format": ".1f", "values": [0, 5, 10, 15, 20, 25, 30], "labelFontSize": 9, "labelColor": "#7f7f7f", "domain": false, "ticks": false, "grid": false, "labelPadding": 8}}}},
                {"transform": [{"filter": "datum.s == '国瑞置业:销售均价:当月值'"}],
                 "mark": {"type": "line", "strokeWidth": 1.3},
                 "encoding": {"y": {"field": "v", "type": "quantitative", "scale": {"domain": [0, 25000]},
                   "axis": {"orient": "right", "title": "(人民币/平方米)", "titleAngle": 0, "titleAlign": "right", "titleBaseline": "middle", "titleX": 42, "titleY": -18, "titleFontSize": 8, "titleFontStyle": "italic", "titleFontWeight": "normal", "titleColor": "#7f7f7f",
                            "format": ",.0f", "values": [0, 5000, 10000, 15000, 20000, 25000], "labelFontSize": 9, "labelColor": "#7f7f7f", "domain": false, "ticks": false, "grid": false, "labelPadding": 6}}}},
                {"transform": [{"filter": "datum.s == '销售均价平均值(右轴)'"}],
                 "mark": {"type": "line", "strokeWidth": 2},
                 "encoding": {"y": {"field": "v", "type": "quantitative", "scale": {"domain": [0, 25000]}, "axis": null}}}
              ],
              "resolve": {"scale": {"y": "independent"}}
            },
            {"width": 466, "height": 2, "data": {"name": "sep"}, "mark": {"type": "bar", "color": "#a6a6a6"}, "encoding": {},
             "title": {"text": "来源：万得、越秀证券研究部", "orient": "bottom", "anchor": "start", "fontSize": 13, "fontStyle": "italic", "fontWeight": "normal", "color": "#8c8c8c", "offset": 6}}
          ]
        }
      ]
    }
  ]
}
